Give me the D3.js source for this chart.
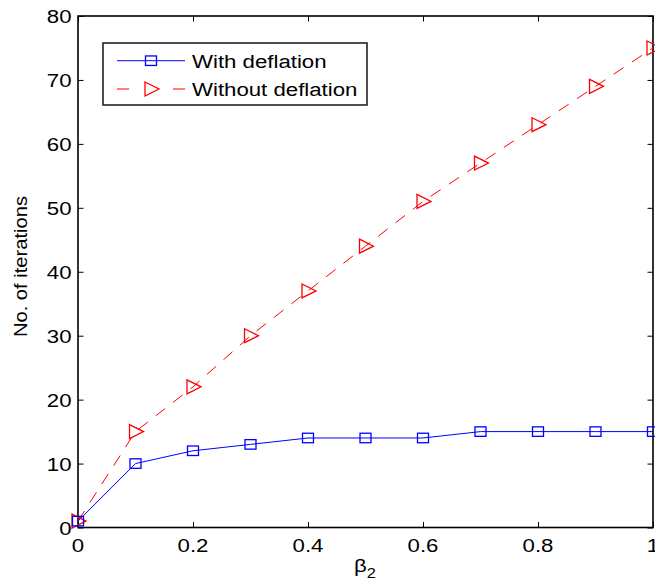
<!DOCTYPE html>
<html><head><meta charset="utf-8">
<script src="https://cdn.jsdelivr.net/npm/d3@7"></script>
<style>body{margin:0;background:#fff}svg{display:block}text{font-family:"Liberation Sans",Arial,sans-serif;fill:#000}</style>
</head><body><svg id="c" width="655" height="584"></svg>
<script>
const beta = [0,0.1,0.2,0.3,0.4,0.5,0.6,0.7,0.8,0.9,1];
const withDeflation = [1,10,12,13,14,14,14,15,15,15,15];
const withoutDeflation = [1,15,22,30,37,44,51,57,63,69,75];
const xTicks = [0,0.2,0.4,0.6,0.8,1];
const yTicks = [0,10,20,30,40,50,60,70,80];
const seriesNames = ["With deflation","Without deflation"];

const svg = d3.select("#c");
const L=78, R=653, T=16, B=527.5;
const x = d3.scaleLinear().domain([0,1]).range([L,R]);
const y = d3.scaleLinear().domain([0,80]).range([B,T]);
const SX = 1.17, FS = 19, TK = 5.5;
const fmt = d3.format("~g");

// ticks on all four sides (inward)
const gAx = svg.append("g");
gAx.append("g").attr("transform",`translate(0,${B})`).call(d3.axisBottom(x).tickValues(xTicks).tickSize(-TK).tickFormat(""));
gAx.append("g").attr("transform",`translate(0,${T})`).call(d3.axisTop(x).tickValues(xTicks).tickSize(-TK).tickFormat(""));
gAx.append("g").attr("transform",`translate(${L},0)`).call(d3.axisLeft(y).tickValues(yTicks).tickSize(-TK).tickFormat(""));
gAx.append("g").attr("transform",`translate(${R},0)`).call(d3.axisRight(y).tickValues(yTicks).tickSize(-TK).tickFormat(""));
gAx.selectAll(".domain").remove();
gAx.selectAll(".tick line").attr("stroke","#000").attr("stroke-width",1);
svg.append("rect").attr("x",L).attr("y",T).attr("width",R-L).attr("height",B-T)
  .attr("fill","none").attr("stroke","#000").attr("stroke-width",1.6);

// tick labels
xTicks.forEach(v=>{
  svg.append("g").attr("transform",`translate(${x(v)},552) scale(${SX},1)`)
    .append("text").attr("text-anchor","middle").attr("font-size",FS).text(fmt(v));
});
yTicks.forEach(v=>{
  svg.append("g").attr("transform",`translate(71.5,${y(v)+7}) scale(${SX},1)`)
    .append("text").attr("text-anchor","end").attr("font-size",FS).text(fmt(v));
});

// axis labels
svg.append("g").attr("transform",`translate(26.5,266.5) rotate(-90) scale(1.12,1)`)
  .append("text").attr("text-anchor","middle").attr("font-size",18).text("No. of iterations");
const xl = svg.append("g").attr("transform",`translate(365,572) scale(${SX},1)`)
  .append("text").attr("text-anchor","middle").attr("font-size",FS);
xl.append("tspan").text("β");
xl.append("tspan").attr("font-size",14).attr("dy",6).text("2");

// lines
const line = (arr)=>d3.line().x((d,i)=>x(beta[i])).y(d=>y(d))(arr);
svg.append("path").attr("d",line(withoutDeflation)).attr("fill","none").attr("stroke","#ff0000")
  .attr("stroke-width",1).attr("stroke-dasharray","12,10");
svg.append("path").attr("d",line(withDeflation)).attr("fill","none").attr("stroke","#0000ff").attr("stroke-width",1);

const tri = (cx,cy)=>`M${cx-6},${cy-7}L${cx-6},${cy+7}L${cx+8},${cy}Z`;
const sq = (sel,cx,cy)=>sel.append("rect").attr("x",cx-5.5).attr("y",cy-4.75).attr("width",11).attr("height",9.5)
  .attr("fill","none").attr("stroke","#0000ff").attr("stroke-width",1.3);

withoutDeflation.forEach((v,i)=>{
  svg.append("path").attr("d",tri(x(beta[i]),y(v))).attr("fill","none").attr("stroke","#ff0000").attr("stroke-width",1.3);
});
withDeflation.forEach((v,i)=>{ sq(svg,x(beta[i]),y(v)); });

// legend
const lg = svg.append("g");
lg.append("rect").attr("x",103).attr("y",43).attr("width",264).attr("height",62)
  .attr("fill","#fff").attr("stroke","#222").attr("stroke-width",1.6);
lg.append("line").attr("x1",117).attr("x2",185).attr("y1",60.7).attr("y2",60.7).attr("stroke","#0000ff").attr("stroke-width",1);
sq(lg,151,60.7);
[[117,129],[173,185]].forEach(s=>{
  lg.append("line").attr("x1",s[0]).attr("x2",s[1]).attr("y1",89).attr("y2",89).attr("stroke","#ff0000").attr("stroke-width",1);
});
lg.append("path").attr("d",tri(151,89)).attr("fill","none").attr("stroke","#ff0000").attr("stroke-width",1.3);
[60.7,89].forEach((yy,i)=>{
  lg.append("g").attr("transform",`translate(192,${yy+7}) scale(${SX},1)`)
    .append("text").attr("font-size",FS).text(seriesNames[i]);
});
</script></body></html>
